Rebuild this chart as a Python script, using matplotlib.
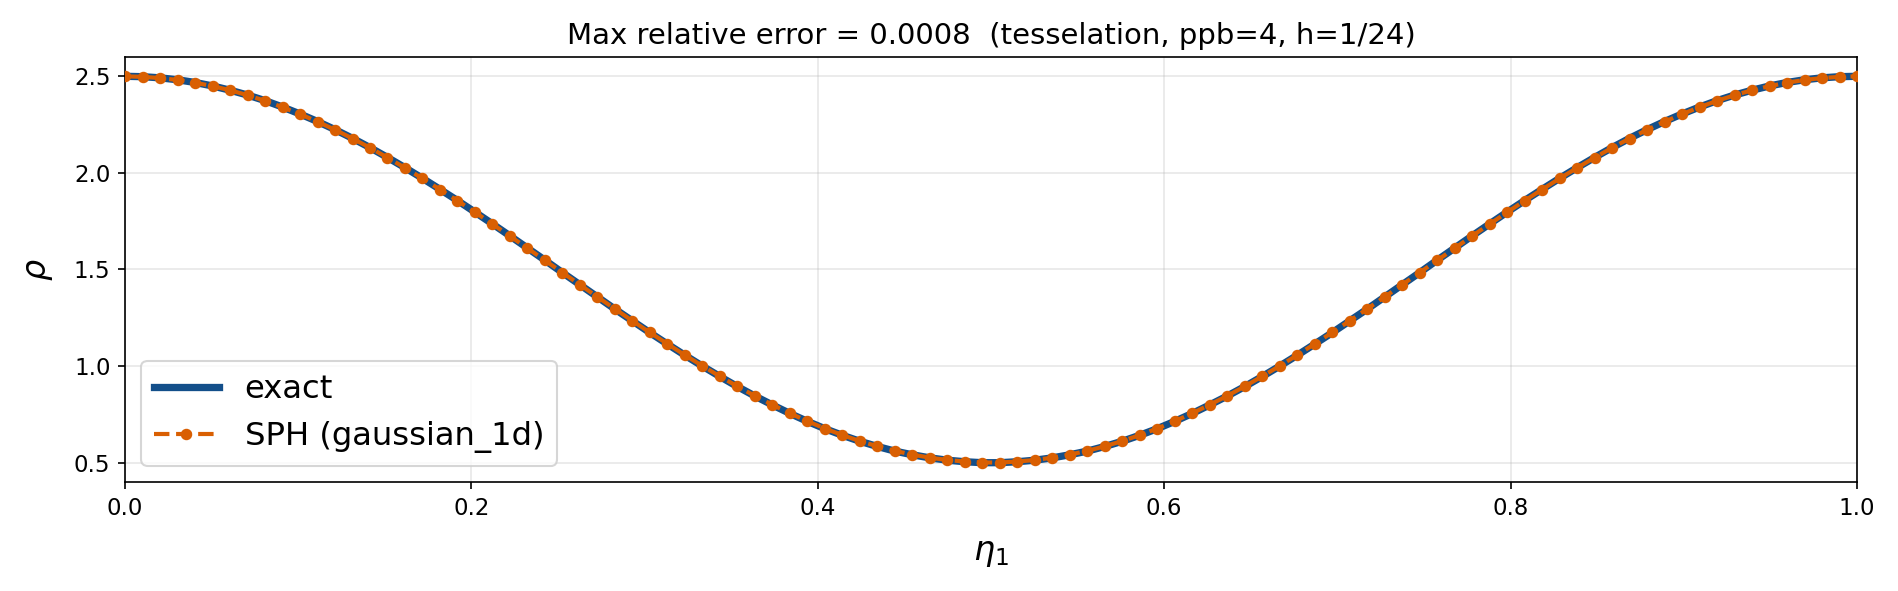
import numpy as np
import matplotlib
matplotlib.use("Agg")
import matplotlib.pyplot as plt

# Data (100 samples over eta_1 in [0, 1])
rho_half = [2.500, 2.498, 2.492, 2.482, 2.468, 2.450, 2.428, 2.403, 2.374, 2.341,
            2.305, 2.266, 2.224, 2.179, 2.131, 2.080, 2.027, 1.972, 1.915, 1.857,
            1.797, 1.736, 1.674, 1.611, 1.548, 1.484, 1.421, 1.358, 1.295, 1.234,
            1.173, 1.114, 1.056, 1.000, 0.946, 0.894, 0.845, 0.799, 0.755, 0.714,
            0.676, 0.642, 0.611, 0.584, 0.560, 0.541, 0.525, 0.513, 0.505, 0.500]
rho_exact = rho_half + rho_half[::-1]
rho_sph = [2.500, 2.497, 2.491, 2.481, 2.467, 2.449, 2.428, 2.402, 2.373, 2.340,
           2.304, 2.265, 2.223, 2.178, 2.130, 2.079, 2.026, 1.971, 1.914, 1.856,
           1.796, 1.735, 1.673, 1.610, 1.547, 1.484, 1.421, 1.358, 1.296, 1.234,
           1.174, 1.115, 1.057, 1.001, 0.947, 0.895, 0.846, 0.800, 0.756, 0.715,
           0.677, 0.643, 0.612, 0.585, 0.561, 0.542, 0.526, 0.514, 0.506, 0.501,
           0.501, 0.506, 0.514, 0.526, 0.542, 0.561, 0.585, 0.612, 0.643, 0.677,
           0.715, 0.756, 0.800, 0.846, 0.895, 0.947, 1.001, 1.057, 1.115, 1.174,
           1.234, 1.296, 1.358, 1.421, 1.484, 1.547, 1.610, 1.673, 1.735, 1.796,
           1.856, 1.914, 1.971, 2.026, 2.079, 2.130, 2.178, 2.223, 2.265, 2.304,
           2.340, 2.373, 2.402, 2.428, 2.449, 2.467, 2.481, 2.491, 2.497, 2.500]
eta = np.linspace(0.0, 1.0, len(rho_exact))

title = "Max relative error = 0.0008  (tesselation, ppb=4, h=1/24)"
xlabel = r"$\eta_1$"
ylabel = r"$\rho$"
labels = ["exact", "SPH (gaussian_1d)"]

plt.rcParams['font.family'] = ['DejaVu Sans']
fig = plt.figure(figsize=(1898 / 150, 591 / 150), dpi=150)
ax = fig.add_axes([0.0659, 0.1844, 0.9125, 0.7192])

ax.plot(eta, rho_exact, color='#134f8a', lw=3.5, label=labels[0], zorder=2)
ax.plot(eta, rho_sph, color='#d95f02', lw=2.0, ls='--', marker='o', ms=4.5,
        label=labels[1], zorder=3)

ax.set_xlim(0, 1)
ax.set_ylim(0.4, 2.6)
ax.set_yticks([0.5, 1.0, 1.5, 2.0, 2.5])
ax.grid(True, color='#b0b0b0', alpha=0.3, lw=0.8)
ax.tick_params(labelsize=11)
ax.set_title(title, fontsize=14)
ax.set_xlabel(xlabel, fontsize=16, labelpad=8)
ax.set_ylabel(ylabel, fontsize=16, labelpad=9)
ax.legend(loc='lower left', fontsize=15.5, handlelength=2.0)

fig.savefig("out.png", dpi=150)
